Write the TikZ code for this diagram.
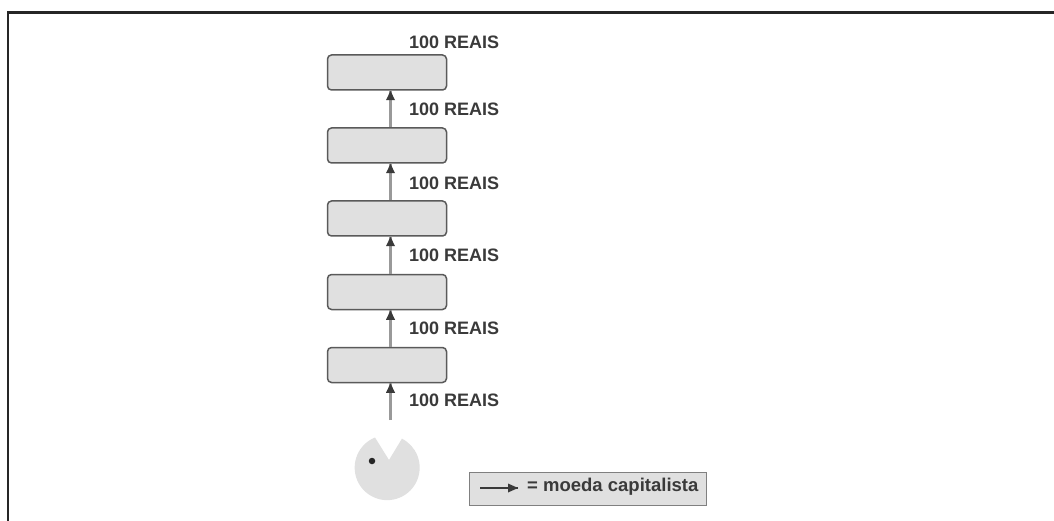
\documentclass[tikz,border=0pt]{standalone}
\usepackage{fontspec}
\setmainfont{Liberation Sans}
\definecolor{boxfill}{HTML}{E0E0E0}
\definecolor{edge}{HTML}{5A5A5A}
\definecolor{ink}{HTML}{3A3A3A}
\tikzset{x=1pt,y=-1pt,
 frameline/.style={draw=black!85,line width=2.5pt},
 stage/.style={draw=edge,fill=boxfill,line width=1.5pt,rounded corners=4pt,minimum width=119pt,minimum height=35pt,inner sep=0pt},
 flow/.style={draw=gray!80,line width=2.2pt},
 tip/.style={fill=ink,draw=none},
 lbl/.style={font=\bfseries\fontsize{18}{20}\selectfont,text=ink,inner sep=0pt,anchor=west},
}
\begin{document}
\begin{tikzpicture}
\useasboundingbox (0,0) rectangle (1054,521);
\fill[white] (0,0) rectangle (1054,521);
\coordinate (fa) at (8,521); \coordinate (fb) at (8,12.5); \coordinate (fc) at (1054,12.5);
\draw[frameline] (fa) -- (fb) -- (fc);
\foreach \n/\y in {a/72.5,b/145.5,c/218.5,d/292,e/365}{
  \node[stage] (\n) at (387,\y) {};
}
\path[fill=boxfill] (389,460) -- (375,437.5) arc[start angle=-112,end angle=-423,radius=32.5] -- cycle;
\node[circle,fill=black!85,minimum size=6.5pt,inner sep=0pt] (eye) at (372,461) {};
\coordinate (src) at (390.5,420);
\foreach \f/\t in {e/d,d/c,c/b,b/a}{
  \draw[flow] (\f.north -| src) -- (\t.south -| src);
}
\draw[flow] (src) -- (e.south -| src);
\foreach \t in {a,b,c,d,e}{
  \path[tip] (\t.south -| src) ++(0,0) -- ++(-4.5,9.5) -- ++(9,0) -- cycle;
}
\foreach \y in {42,109,183,255,328,400}{
  \node[lbl] at (409,\y) {100 REAIS};
}
\node[draw=gray,fill=boxfill,line width=1pt,minimum width=237pt,minimum height=33pt,inner sep=0pt] (leg) at (587.5,488.5) {};
\coordinate (la) at (480,488); \coordinate (lb) at (518,488);
\draw[draw=ink,line width=1.2pt] (la) -- (lb);
\path[tip] (lb) -- ++(-10,-4.5) -- ++(0,9) -- cycle;
\node[lbl,font=\bfseries\fontsize{18.5}{20}\selectfont] at (527,487) {= moeda capitalista};
\end{tikzpicture}
\end{document}
